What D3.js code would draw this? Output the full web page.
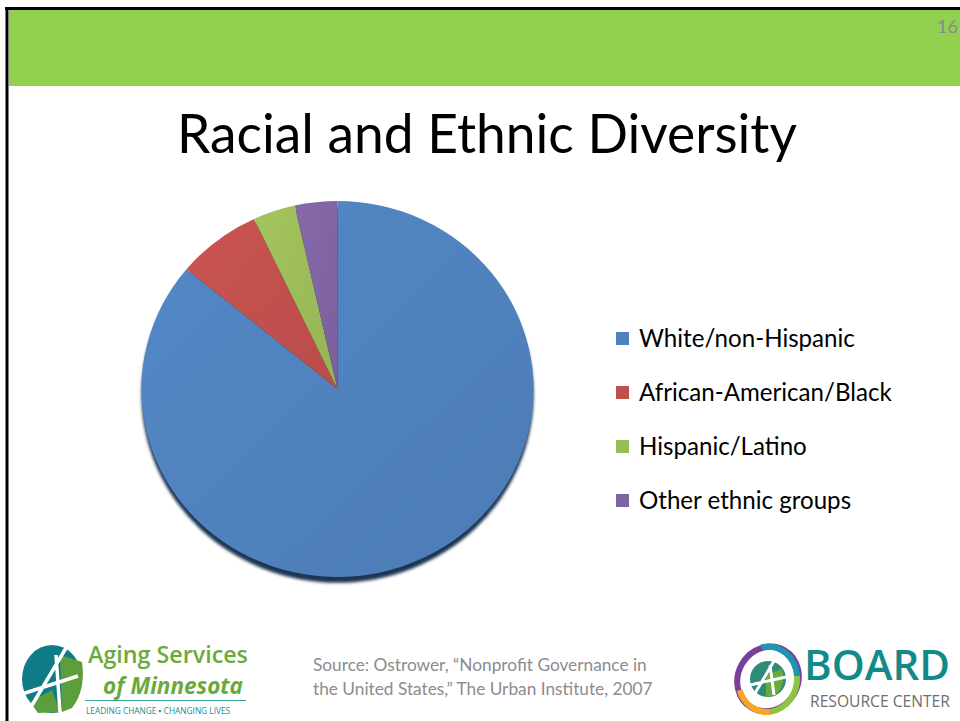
<!DOCTYPE html>
<html>
<head>
<meta charset="utf-8">
<script src="https://cdn.jsdelivr.net/npm/d3@7"></script>
<style>
  body { margin: 0; background: #fff; }
  svg { display: block; }
</style>
</head>
<body>
<svg id="slide"></svg>
<script>
// chart data
const categories = ["White/non-Hispanic", "African-American/Black", "Hispanic/Latino", "Other ethnic groups"];
const shares = [86, 7, 3.5, 3.5];
const colors = ["#4f81bd", "#c0504d", "#9bbb59", "#8064a2"];
const titleText = "Racial and Ethnic Diversity";
const sourceLines = ["Source: Ostrower, \u201cNonprofit Governance in", "the United States,\u201d The Urban Institute, 2007"];

const width = 960, height = 721;
const svg = d3.select("#slide").attr("width", width).attr("height", height);

// fit a text element to a target width by adjusting font size
function fit(sel, target) {
  const w = sel.node().getComputedTextLength();
  const fs = parseFloat(sel.attr("font-size"));
  sel.attr("font-size", fs * target / w);
}

const defs = svg.append("defs");
const blur = defs.append("filter").attr("id", "blur").attr("x", "-10%").attr("y", "-10%").attr("width", "120%").attr("height", "120%");
blur.append("feGaussianBlur").attr("stdDeviation", 1.5);

colors.forEach((c, i) => {
  const g = defs.append("linearGradient").attr("id", "grad" + i)
    .attr("x1", "0%").attr("y1", "0%").attr("x2", "100%").attr("y2", "100%");
  g.append("stop").attr("offset", "0%").attr("stop-color", d3.color(c).brighter(0.15));
  g.append("stop").attr("offset", "100%").attr("stop-color", d3.color(c).darker(0.12));
});

// slide frame + header band
svg.append("rect").attr("x", 9).attr("y", 10).attr("width", width - 9).attr("height", 76).attr("fill", "#92d050");
svg.append("line").attr("x1", 5).attr("x2", width).attr("y1", 8.5).attr("y2", 8.5).attr("stroke", "#000").attr("stroke-width", 3);
svg.append("line").attr("x1", 7).attr("x2", 7).attr("y1", 7).attr("y2", height).attr("stroke", "#000").attr("stroke-width", 3);

svg.append("text").attr("x", 958).attr("y", 33).attr("text-anchor", "end")
  .attr("font-family", "Lato, sans-serif").attr("font-size", 18).attr("fill", "#8a8a8a").text("16");

// title
const title = svg.append("text").attr("x", 487).attr("y", 153).attr("text-anchor", "middle")
  .attr("font-family", "Lato, sans-serif").attr("font-size", 48).attr("fill", "#000").text(titleText);
fit(title, 620);

// pie
const cx = 337.5, cy = 389, rx = 196, ry = 188;
const pieG = svg.append("g").attr("transform", `translate(${cx},${cy}) scale(1,${ry / rx})`);

pieG.append("circle").attr("cx", 0).attr("cy", 6).attr("r", rx)
  .attr("fill", "#1f3552").attr("filter", "url(#blur)");

const pie = d3.pie().sort(null).value(d => d)(shares);
const arc = d3.arc().innerRadius(0).outerRadius(rx);

pieG.selectAll("path.slice")
  .data(pie)
  .join("path")
  .attr("class", "slice")
  .attr("d", arc)
  .attr("fill", (d, i) => `url(#grad${i})`);

// legend
const legend = svg.append("g").attr("transform", "translate(616,338)");
const rows = legend.selectAll("g").data(categories).join("g")
  .attr("transform", (d, i) => `translate(0,${i * 54})`);
rows.append("rect").attr("x", 0).attr("y", -6).attr("width", 13).attr("height", 13)
  .attr("fill", (d, i) => colors[i]);
rows.append("text").attr("x", 23).attr("y", 8.5)
  .attr("font-family", "Lato, sans-serif").attr("font-size", 23).attr("fill", "#000")
  .text(d => d);
fit(rows.filter((d, i) => i === 0).select("text"), 216);
const legFs = rows.filter((d, i) => i === 0).select("text").attr("font-size");
rows.selectAll("text").attr("font-size", legFs);

// source
const src = svg.append("g").selectAll("text").data(sourceLines).join("text")
  .attr("x", 313).attr("y", (d, i) => 671 + i * 24)
  .attr("font-family", "Lato, sans-serif").attr("font-size", 15.5).attr("fill", "#8c8c8c")
  .text(d => d);
fit(src.filter((d, i) => i === 0), 334);
src.attr("font-size", src.filter((d, i) => i === 0).attr("font-size"));

// Aging Services of Minnesota logo
const asm = svg.append("g");
asm.append("ellipse").attr("cx", 52).attr("cy", 679).attr("rx", 30).attr("ry", 34).attr("fill", "#0f7b86");
asm.append("path").attr("d", "M60,655 L82,662 Q86,690 72,708 L62,712 Z").attr("fill", "#5d9e3c");
asm.append("path").attr("d", "M30,702 L52,690 L60,712 L38,713 Z").attr("fill", "#5d9e3c");
asm.append("path").attr("d", "M28,712 L66,648 M56,655 L60,712 M22,694 L78,676")
  .attr("stroke", "#fff").attr("stroke-width", 3.5).attr("fill", "none");
const as1 = asm.append("text").attr("x", 88).attr("y", 663).attr("font-family", "'Open Sans', sans-serif")
  .attr("font-weight", 600).attr("font-size", 20).attr("fill", "#6aaa3a").text("Aging Services");
fit(as1, 160);
const as2 = asm.append("text").attr("x", 103).attr("y", 694).attr("font-family", "'Open Sans', sans-serif")
  .attr("font-weight", 700).attr("font-style", "italic").attr("font-size", 19).attr("fill", "#6aaa3a").text("of Minnesota");
fit(as2, 140);
asm.append("line").attr("x1", 85).attr("x2", 246).attr("y1", 700.5).attr("y2", 700.5).attr("stroke", "#3aa0a8").attr("stroke-width", 1);
asm.append("text").attr("x", 86).attr("y", 714).attr("font-family", "'Open Sans', sans-serif")
  .attr("font-size", 8.3).attr("fill", "#1a8a95").text("LEADING CHANGE \u25aa CHANGING LIVES");

// Board Resource Center logo
const brc = svg.append("g").attr("transform", "translate(768,679)");
brc.append("ellipse").attr("rx", 30).attr("ry", 33).attr("transform", "rotate(30)")
  .attr("fill", "none").attr("stroke", "#7a3f98").attr("stroke-width", 6);
brc.append("path").attr("d", "M-12,-30 A30,33 0 0 1 28,-8").attr("transform", "rotate(10)")
  .attr("fill", "none").attr("stroke", "#1f95b0").attr("stroke-width", 6);
brc.append("path").attr("d", "M28,-8 A30,33 0 0 1 8,32").attr("transform", "rotate(10)")
  .attr("fill", "none").attr("stroke", "#8cc63f").attr("stroke-width", 6);
brc.append("path").attr("d", "M8,32 A30,33 0 0 1 -26,16").attr("transform", "rotate(10)")
  .attr("fill", "none").attr("stroke", "#f5a623").attr("stroke-width", 6);
brc.append("circle").attr("r", 18).attr("fill", "#2f8a7a");
brc.append("path").attr("d", "M-2,-4 L14,-10 Q18,6 8,16 L-2,18 Z").attr("fill", "#6aaa3a");
brc.append("path").attr("d", "M-14,16 L6,-18 M2,-14 L6,16 M-18,6 L18,-2")
  .attr("stroke", "#fff").attr("stroke-width", 3).attr("fill", "none");
const bd = svg.append("text").attr("x", 804).attr("y", 680).attr("font-family", "'Open Sans', sans-serif")
  .attr("font-weight", 600).attr("font-size", 38).attr("fill", "#138a8a").text("BOARD");
fit(bd, 146);
const rc = svg.append("text").attr("x", 810).attr("y", 707).attr("font-family", "'Open Sans', sans-serif")
  .attr("font-size", 13).attr("fill", "#6d6e70").text("RESOURCE CENTER");
fit(rc, 140);
</script>
</body>
</html>
